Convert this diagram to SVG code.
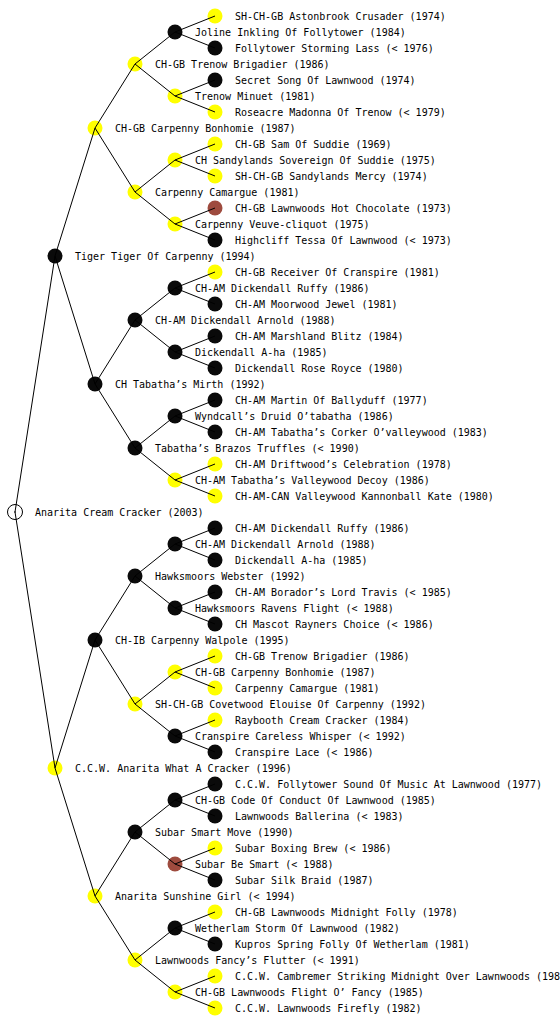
<svg xmlns="http://www.w3.org/2000/svg" width="560" height="1024" viewBox="0 0 560 1024">
<style>
text{font-family:"DejaVu Sans Mono","Liberation Mono",monospace;font-size:10px;fill:#000}
.y{fill:#ffff00}
.b{fill:#0a0a0a}
.r{fill:#9e4b3e}
.w{fill:#fff;stroke:#000;stroke-width:1}
#edges line{stroke:#000;stroke-width:1}
</style>
<rect width="560" height="1024" fill="#fff"/>
<g id="n0"><circle class="w" cx="15" cy="512" r="7.5"/><circle cx="15" cy="512" r="0.8" fill="#000"/><text x="35" y="516">Anarita Cream Cracker (2003)</text></g>
<g id="n1a"><circle class="b" cx="55" cy="256" r="7.5"/><text x="75" y="260">Tiger Tiger Of Carpenny (1994)</text></g>
<g id="n1b"><circle class="y" cx="55" cy="768" r="7.5"/><text x="75" y="772">C.C.W. Anarita What A Cracker (1996)</text></g>
<g id="n2a"><circle class="y" cx="95" cy="128" r="7.5"/><text x="115" y="132">CH-GB Carpenny Bonhomie (1987)</text></g>
<g id="n2b"><circle class="b" cx="95" cy="384" r="7.5"/><text x="115" y="388">CH Tabatha’s Mirth (1992)</text></g>
<g id="n2c"><circle class="b" cx="95" cy="640" r="7.5"/><text x="115" y="644">CH-IB Carpenny Walpole (1995)</text></g>
<g id="n2d"><circle class="y" cx="95" cy="896" r="7.5"/><text x="115" y="900">Anarita Sunshine Girl (&lt; 1994)</text></g>
<g id="n3a"><circle class="y" cx="135" cy="64" r="7.5"/><text x="155" y="68">CH-GB Trenow Brigadier (1986)</text></g>
<g id="n3b"><circle class="y" cx="135" cy="192" r="7.5"/><text x="155" y="196">Carpenny Camargue (1981)</text></g>
<g id="n3c"><circle class="b" cx="135" cy="320" r="7.5"/><text x="155" y="324">CH-AM Dickendall Arnold (1988)</text></g>
<g id="n3d"><circle class="b" cx="135" cy="448" r="7.5"/><text x="155" y="452">Tabatha’s Brazos Truffles (&lt; 1990)</text></g>
<g id="n3e"><circle class="b" cx="135" cy="576" r="7.5"/><text x="155" y="580">Hawksmoors Webster (1992)</text></g>
<g id="n3f"><circle class="y" cx="135" cy="704" r="7.5"/><text x="155" y="708">SH-CH-GB Covetwood Elouise Of Carpenny (1992)</text></g>
<g id="n3g"><circle class="b" cx="135" cy="832" r="7.5"/><text x="155" y="836">Subar Smart Move (1990)</text></g>
<g id="n3h"><circle class="y" cx="135" cy="960" r="7.5"/><text x="155" y="964">Lawnwoods Fancy’s Flutter (&lt; 1991)</text></g>
<g id="n4a"><circle class="b" cx="175" cy="32" r="7.5"/><text x="195" y="36">Joline Inkling Of Follytower (1984)</text></g>
<g id="n4b"><circle class="y" cx="175" cy="96" r="7.5"/><text x="195" y="100">Trenow Minuet (1981)</text></g>
<g id="n4c"><circle class="y" cx="175" cy="160" r="7.5"/><text x="195" y="164">CH Sandylands Sovereign Of Suddie (1975)</text></g>
<g id="n4d"><circle class="y" cx="175" cy="224" r="7.5"/><text x="195" y="228">Carpenny Veuve-cliquot (1975)</text></g>
<g id="n4e"><circle class="b" cx="175" cy="288" r="7.5"/><text x="195" y="292">CH-AM Dickendall Ruffy (1986)</text></g>
<g id="n4f"><circle class="b" cx="175" cy="352" r="7.5"/><text x="195" y="356">Dickendall A-ha (1985)</text></g>
<g id="n4g"><circle class="b" cx="175" cy="416" r="7.5"/><text x="195" y="420">Wyndcall’s Druid O’tabatha (1986)</text></g>
<g id="n4h"><circle class="y" cx="175" cy="480" r="7.5"/><text x="195" y="484">CH-AM Tabatha’s Valleywood Decoy (1986)</text></g>
<g id="n4i"><circle class="b" cx="175" cy="544" r="7.5"/><text x="195" y="548">CH-AM Dickendall Arnold (1988)</text></g>
<g id="n4j"><circle class="b" cx="175" cy="608" r="7.5"/><text x="195" y="612">Hawksmoors Ravens Flight (&lt; 1988)</text></g>
<g id="n4k"><circle class="y" cx="175" cy="672" r="7.5"/><text x="195" y="676">CH-GB Carpenny Bonhomie (1987)</text></g>
<g id="n4l"><circle class="b" cx="175" cy="736" r="7.5"/><text x="195" y="740">Cranspire Careless Whisper (&lt; 1992)</text></g>
<g id="n4m"><circle class="b" cx="175" cy="800" r="7.5"/><text x="195" y="804">CH-GB Code Of Conduct Of Lawnwood (1985)</text></g>
<g id="n4n"><circle class="r" cx="175" cy="864" r="7.5"/><text x="195" y="868">Subar Be Smart (&lt; 1988)</text></g>
<g id="n4o"><circle class="b" cx="175" cy="928" r="7.5"/><text x="195" y="932">Wetherlam Storm Of Lawnwood (1982)</text></g>
<g id="n4p"><circle class="y" cx="175" cy="992" r="7.5"/><text x="195" y="996">CH-GB Lawnwoods Flight O’ Fancy (1985)</text></g>
<g id="n5a"><circle class="y" cx="215" cy="16" r="7.5"/><text x="235" y="20">SH-CH-GB Astonbrook Crusader (1974)</text></g>
<g id="n5b"><circle class="b" cx="215" cy="48" r="7.5"/><text x="235" y="52">Follytower Storming Lass (&lt; 1976)</text></g>
<g id="n5c"><circle class="b" cx="215" cy="80" r="7.5"/><text x="235" y="84">Secret Song Of Lawnwood (1974)</text></g>
<g id="n5d"><circle class="y" cx="215" cy="112" r="7.5"/><text x="235" y="116">Roseacre Madonna Of Trenow (&lt; 1979)</text></g>
<g id="n5e"><circle class="y" cx="215" cy="144" r="7.5"/><text x="235" y="148">CH-GB Sam Of Suddie (1969)</text></g>
<g id="n5f"><circle class="y" cx="215" cy="176" r="7.5"/><text x="235" y="180">SH-CH-GB Sandylands Mercy (1974)</text></g>
<g id="n5g"><circle class="r" cx="215" cy="208" r="7.5"/><text x="235" y="212">CH-GB Lawnwoods Hot Chocolate (1973)</text></g>
<g id="n5h"><circle class="b" cx="215" cy="240" r="7.5"/><text x="235" y="244">Highcliff Tessa Of Lawnwood (&lt; 1973)</text></g>
<g id="n5i"><circle class="y" cx="215" cy="272" r="7.5"/><text x="235" y="276">CH-GB Receiver Of Cranspire (1981)</text></g>
<g id="n5j"><circle class="b" cx="215" cy="304" r="7.5"/><text x="235" y="308">CH-AM Moorwood Jewel (1981)</text></g>
<g id="n5k"><circle class="b" cx="215" cy="336" r="7.5"/><text x="235" y="340">CH-AM Marshland Blitz (1984)</text></g>
<g id="n5l"><circle class="b" cx="215" cy="368" r="7.5"/><text x="235" y="372">Dickendall Rose Royce (1980)</text></g>
<g id="n5m"><circle class="b" cx="215" cy="400" r="7.5"/><text x="235" y="404">CH-AM Martin Of Ballyduff (1977)</text></g>
<g id="n5n"><circle class="b" cx="215" cy="432" r="7.5"/><text x="235" y="436">CH-AM Tabatha’s Corker O’valleywood (1983)</text></g>
<g id="n5o"><circle class="y" cx="215" cy="464" r="7.5"/><text x="235" y="468">CH-AM Driftwood’s Celebration (1978)</text></g>
<g id="n5p"><circle class="y" cx="215" cy="496" r="7.5"/><text x="235" y="500">CH-AM-CAN Valleywood Kannonball Kate (1980)</text></g>
<g id="n5q"><circle class="b" cx="215" cy="528" r="7.5"/><text x="235" y="532">CH-AM Dickendall Ruffy (1986)</text></g>
<g id="n5r"><circle class="b" cx="215" cy="560" r="7.5"/><text x="235" y="564">Dickendall A-ha (1985)</text></g>
<g id="n5s"><circle class="b" cx="215" cy="592" r="7.5"/><text x="235" y="596">CH-AM Borador’s Lord Travis (&lt; 1985)</text></g>
<g id="n5t"><circle class="b" cx="215" cy="624" r="7.5"/><text x="235" y="628">CH Mascot Rayners Choice (&lt; 1986)</text></g>
<g id="n5u"><circle class="y" cx="215" cy="656" r="7.5"/><text x="235" y="660">CH-GB Trenow Brigadier (1986)</text></g>
<g id="n5v"><circle class="y" cx="215" cy="688" r="7.5"/><text x="235" y="692">Carpenny Camargue (1981)</text></g>
<g id="n5w"><circle class="y" cx="215" cy="720" r="7.5"/><text x="235" y="724">Raybooth Cream Cracker (1984)</text></g>
<g id="n5x"><circle class="b" cx="215" cy="752" r="7.5"/><text x="235" y="756">Cranspire Lace (&lt; 1986)</text></g>
<g id="n5y"><circle class="b" cx="215" cy="784" r="7.5"/><text x="235" y="788">C.C.W. Follytower Sound Of Music At Lawnwood (1977)</text></g>
<g id="n5z"><circle class="b" cx="215" cy="816" r="7.5"/><text x="235" y="820">Lawnwoods Ballerina (&lt; 1983)</text></g>
<g id="n5aa"><circle class="y" cx="215" cy="848" r="7.5"/><text x="235" y="852">Subar Boxing Brew (&lt; 1986)</text></g>
<g id="n5ab"><circle class="b" cx="215" cy="880" r="7.5"/><text x="235" y="884">Subar Silk Braid (1987)</text></g>
<g id="n5ac"><circle class="y" cx="215" cy="912" r="7.5"/><text x="235" y="916">CH-GB Lawnwoods Midnight Folly (1978)</text></g>
<g id="n5ad"><circle class="b" cx="215" cy="944" r="7.5"/><text x="235" y="948">Kupros Spring Folly Of Wetherlam (1981)</text></g>
<g id="n5ae"><circle class="y" cx="215" cy="976" r="7.5"/><text x="235" y="980">C.C.W. Cambremer Striking Midnight Over Lawnwoods (198</text></g>
<g id="n5af"><circle class="y" cx="215" cy="1008" r="7.5"/><text x="235" y="1012">C.C.W. Lawnwoods Firefly (1982)</text></g>
<g id="edges">
<line x1="15" y1="512" x2="55" y2="256"/><line x1="15" y1="512" x2="55" y2="768"/>
<line x1="55" y1="256" x2="95" y2="128"/><line x1="55" y1="256" x2="95" y2="384"/>
<line x1="55" y1="768" x2="95" y2="640"/><line x1="55" y1="768" x2="95" y2="896"/>
<line x1="95" y1="128" x2="135" y2="64"/><line x1="95" y1="128" x2="135" y2="192"/>
<line x1="95" y1="384" x2="135" y2="320"/><line x1="95" y1="384" x2="135" y2="448"/>
<line x1="95" y1="640" x2="135" y2="576"/><line x1="95" y1="640" x2="135" y2="704"/>
<line x1="95" y1="896" x2="135" y2="832"/><line x1="95" y1="896" x2="135" y2="960"/>
<line x1="135" y1="64" x2="175" y2="32"/><line x1="135" y1="64" x2="175" y2="96"/>
<line x1="135" y1="192" x2="175" y2="160"/><line x1="135" y1="192" x2="175" y2="224"/>
<line x1="135" y1="320" x2="175" y2="288"/><line x1="135" y1="320" x2="175" y2="352"/>
<line x1="135" y1="448" x2="175" y2="416"/><line x1="135" y1="448" x2="175" y2="480"/>
<line x1="135" y1="576" x2="175" y2="544"/><line x1="135" y1="576" x2="175" y2="608"/>
<line x1="135" y1="704" x2="175" y2="672"/><line x1="135" y1="704" x2="175" y2="736"/>
<line x1="135" y1="832" x2="175" y2="800"/><line x1="135" y1="832" x2="175" y2="864"/>
<line x1="135" y1="960" x2="175" y2="928"/><line x1="135" y1="960" x2="175" y2="992"/>
<line x1="175" y1="32" x2="215" y2="16"/><line x1="175" y1="32" x2="215" y2="48"/>
<line x1="175" y1="96" x2="215" y2="80"/><line x1="175" y1="96" x2="215" y2="112"/>
<line x1="175" y1="160" x2="215" y2="144"/><line x1="175" y1="160" x2="215" y2="176"/>
<line x1="175" y1="224" x2="215" y2="208"/><line x1="175" y1="224" x2="215" y2="240"/>
<line x1="175" y1="288" x2="215" y2="272"/><line x1="175" y1="288" x2="215" y2="304"/>
<line x1="175" y1="352" x2="215" y2="336"/><line x1="175" y1="352" x2="215" y2="368"/>
<line x1="175" y1="416" x2="215" y2="400"/><line x1="175" y1="416" x2="215" y2="432"/>
<line x1="175" y1="480" x2="215" y2="464"/><line x1="175" y1="480" x2="215" y2="496"/>
<line x1="175" y1="544" x2="215" y2="528"/><line x1="175" y1="544" x2="215" y2="560"/>
<line x1="175" y1="608" x2="215" y2="592"/><line x1="175" y1="608" x2="215" y2="624"/>
<line x1="175" y1="672" x2="215" y2="656"/><line x1="175" y1="672" x2="215" y2="688"/>
<line x1="175" y1="736" x2="215" y2="720"/><line x1="175" y1="736" x2="215" y2="752"/>
<line x1="175" y1="800" x2="215" y2="784"/><line x1="175" y1="800" x2="215" y2="816"/>
<line x1="175" y1="864" x2="215" y2="848"/><line x1="175" y1="864" x2="215" y2="880"/>
<line x1="175" y1="928" x2="215" y2="912"/><line x1="175" y1="928" x2="215" y2="944"/>
<line x1="175" y1="992" x2="215" y2="976"/><line x1="175" y1="992" x2="215" y2="1008"/>
</g>
</svg>
